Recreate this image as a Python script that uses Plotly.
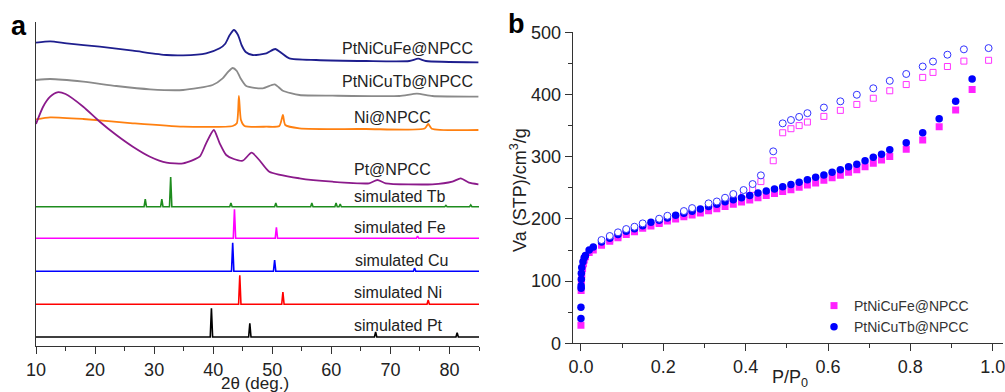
import plotly.graph_objects as go

# ---------------- Panel a : XRD (2theta, stacked intensity in a.u.) ----------------
fe_exp_x = [10.0, 12.4, 15.2, 20.8, 26.4, 32.1, 34.9, 38.8, 41.1, 42.0, 42.8, 43.5, 44.2, 44.8, 45.5, 46.7, 49.0, 50.5, 51.5, 52.9, 57.4, 65.9, 73.2, 74.7, 76.0, 84.9]
fe_exp_y = [303.3, 304.7, 302.7, 299.3, 295.3, 291, 290.7, 292.7, 297.7, 302, 311, 316, 311, 301, 294, 291, 292.7, 297, 293.3, 287.7, 286, 285, 285, 287.3, 285, 283.7]

tb_exp_x = [10.0, 12.4, 18.0, 23.6, 29.3, 34.9, 39.9, 41.6, 42.5, 43.3, 44.0, 44.6, 45.6, 48.4, 50.4, 51.8, 54.6, 60.2, 71.5, 74.5, 77.1, 84.9]
tb_exp_y = [266, 267, 264.3, 260, 256.7, 256, 261, 267.7, 274, 278, 275, 268, 260, 257.7, 261.7, 255.3, 251, 250.3, 250, 252.3, 250, 249.3]

ni_exp_x = [10.0, 12.4, 18.0, 26.4, 34.9, 43.3, 44.0, 44.35, 44.7, 45.3, 49.0, 51.2, 51.8, 52.2, 54.6, 65.9, 75.8, 76.4, 77.0, 84.9]
ni_exp_y = [226.7, 228.7, 227, 222.7, 219.3, 220, 222.7, 250, 226, 220, 219.3, 220, 231, 221, 217.7, 217, 217.5, 222, 217.3, 216]

pt_exp_x = [10.0, 11.2, 12.4, 13.6, 15.0, 18.0, 20.8, 23.6, 26.4, 29.3, 32.1, 34.9, 37.7, 38.8, 40.1, 41.1, 42.2, 43.5, 45.0, 46.5, 47.8, 49.5, 54.6, 60.2, 66.4, 67.8, 69.2, 77.1, 80.5, 81.9, 83.3, 84.9]
pt_exp_y = [222, 239.3, 249.3, 253.7, 252, 239.3, 224.3, 211, 199.3, 189.3, 183.3, 182.7, 189.3, 202.7, 216, 202.7, 191, 187, 185.3, 193.3, 186, 174.3, 167.7, 164.3, 162.7, 166, 162.7, 161.7, 164.3, 167.7, 163.3, 161.7]

# simulated reference patterns: baseline offset, peak positions, peak heights
sim_tb_base = 139.3
sim_tb_pos = [28.5, 31.3, 32.8, 43.0, 50.6, 56.7, 60.8, 61.5, 79.4, 83.6]
sim_tb_h = [7.7, 7.7, 29.7, 3.7, 3.7, 3.7, 3.7, 2.7, 1.2, 1.7]
sim_fe_base = 107.7
sim_fe_pos = [43.6, 50.7, 74.6]
sim_fe_h = [29, 11, 2.3]
sim_cu_base = 74.7
sim_cu_pos = [43.3, 50.4, 74.1]
sim_cu_h = [28.6, 11.3, 3.3]
sim_ni_base = 41.7
sim_ni_pos = [44.5, 51.8, 76.4]
sim_ni_h = [29, 12.3, 4.3]
sim_pt_base = 9.0
sim_pt_pos = [39.7, 46.2, 67.5, 81.3]
sim_pt_h = [28.7, 13.7, 5, 4.3]

labels_a = ["PtNiCuFe@NPCC", "PtNiCuTb@NPCC", "Ni@NPCC", "Pt@NPCC", "simulated Tb",
            "simulated Fe", "simulated Cu", "simulated Ni", "simulated Pt"]
label_x = [61.4, 61.4, 63.5, 63.5, 63.5, 63.5, 63.6, 63.5, 63.5]
label_y = [298, 265, 229, 177, 150, 118.3, 85.3, 53.3, 21]

# ---------------- Panel b : N2 isotherms ----------------
fe_ads_p = [0.0, 0.0005, 0.001, 0.002, 0.004, 0.006, 0.008, 0.011, 0.02, 0.03,
            0.05, 0.07, 0.09, 0.11, 0.13, 0.15, 0.17, 0.19, 0.21, 0.23, 0.25, 0.27, 0.29, 0.31, 0.33, 0.35,
            0.37, 0.39, 0.41, 0.43, 0.45, 0.47, 0.49, 0.51, 0.53, 0.55, 0.57, 0.59, 0.61, 0.63, 0.65,
            0.67, 0.69, 0.71, 0.73, 0.75, 0.79, 0.83, 0.87, 0.91, 0.95]
fe_ads_v = [29, 85, 100, 110, 120, 128, 134, 139, 146, 150,
            157.5, 164, 169.7, 175, 179.4, 184.8, 188.5, 192.8, 196.6, 199.8, 203.5, 206.2, 209.5, 213, 216.5, 220,
            223.6, 227.3, 230.3, 234, 237.5, 241, 244, 247, 250.7, 254.4, 257.6, 262, 266, 270, 274.8,
            279, 283.8, 289.3, 294.6, 300.5, 311.8, 326.7, 348, 375, 408]
fe_des_p = [0.05, 0.07, 0.09, 0.11, 0.13, 0.15, 0.19, 0.21, 0.25, 0.27, 0.31, 0.33, 0.35, 0.37, 0.395,
            0.417, 0.437, 0.467, 0.49, 0.51, 0.53, 0.55, 0.59, 0.63, 0.67, 0.71, 0.75, 0.79, 0.83, 0.855,
            0.89, 0.93, 0.99]
fe_des_v = [160, 166.5, 172, 177.5, 181.5, 187, 194, 199, 206, 211, 218, 222, 228, 234, 240,
            247.5, 260, 293.5, 338.5, 345, 350, 355.7, 364.8, 374.5, 384, 394, 406, 416, 427.5, 435.5,
            445, 453.7, 455]
tb_ads_p = [0.0, 0.0, 0.0005, 0.0005, 0.001, 0.001, 0.002, 0.005, 0.008, 0.011, 0.02, 0.03,
            0.05, 0.07, 0.09, 0.11, 0.13, 0.15, 0.17, 0.19, 0.21, 0.23, 0.25, 0.27, 0.29, 0.31, 0.33, 0.35,
            0.37, 0.39, 0.41, 0.43, 0.45, 0.47, 0.49, 0.51, 0.53, 0.55, 0.57, 0.59, 0.61, 0.63, 0.65,
            0.67, 0.69, 0.71, 0.73, 0.75, 0.79, 0.83, 0.87, 0.91, 0.95]
tb_ads_v = [40, 58, 88.4, 92.6, 103, 112.5, 122, 131, 137.6, 141, 150, 155,
            163, 169, 175, 180, 184, 189, 194.5, 198, 201.5, 205.7, 209, 212.5, 216, 220, 223.4, 227.6,
            230.8, 234, 237.5, 241.5, 244.8, 248, 251.5, 255.5, 259, 263, 266.8, 270.5, 274.8, 279, 283.8,
            288, 293.5, 299, 304, 311, 322.4, 338.5, 361, 389, 425]
tb_des_p = [0.05, 0.07, 0.09, 0.11, 0.13, 0.15, 0.19, 0.21, 0.25, 0.27, 0.31, 0.33, 0.35, 0.37, 0.395,
            0.417, 0.437, 0.467, 0.49, 0.51, 0.53, 0.55, 0.59, 0.63, 0.67, 0.71, 0.75, 0.79, 0.83, 0.855,
            0.89, 0.93, 0.99]
tb_des_v = [166, 172.5, 178.4, 183.7, 187.4, 192.8, 200.3, 205, 212.6, 217.4, 225, 228, 234, 240, 246.4,
            256, 270, 308.6, 353.6, 359, 364, 370, 379, 389, 399.6, 410, 422, 433, 445, 453, 464, 472.6, 474.6]

FONT = "Liberation Sans, Arial, sans-serif"
TXT = "#222222"
W, H = 1005, 392


def sticks(base, pos, h, lo=10.0, hi=85.0, hw=0.2):
    xs, ys = [lo], [base]
    for p, v in zip(pos, h):
        xs += [p - hw, p, p + hw]
        ys += [base, base + v, base]
    xs.append(hi)
    ys.append(base)
    return xs, ys


fig = go.Figure()

exp_series = [
    (fe_exp_x, fe_exp_y, "#1e1e8e"),
    (tb_exp_x, tb_exp_y, "#8a8a8a"),
    (ni_exp_x, ni_exp_y, "#ff8010"),
    (pt_exp_x, pt_exp_y, "#8b1a8b"),
]
for xs, ys, c in exp_series:
    fig.add_trace(go.Scatter(x=xs, y=ys, mode="lines", line=dict(color=c, width=1.8, shape="spline", smoothing=0.6),
                             showlegend=False, xaxis="x", yaxis="y", hoverinfo="skip"))

sim_series = [
    (sim_tb_base, sim_tb_pos, sim_tb_h, "#1e8c1e"),
    (sim_fe_base, sim_fe_pos, sim_fe_h, "#ff00ff"),
    (sim_cu_base, sim_cu_pos, sim_cu_h, "#0000ff"),
    (sim_ni_base, sim_ni_pos, sim_ni_h, "#ff0000"),
    (sim_pt_base, sim_pt_pos, sim_pt_h, "#000000"),
]
for b, p, h, c in sim_series:
    xs, ys = sticks(b, p, h)
    fig.add_trace(go.Scatter(x=xs, y=ys, mode="lines", line=dict(color=c, width=1.6),
                             showlegend=False, xaxis="x", yaxis="y", hoverinfo="skip"))

# panel b traces (order: Fe des, Fe ads, Tb ads, Tb des)
fig.add_trace(go.Scatter(x=fe_des_p, y=fe_des_v, mode="markers", showlegend=False, xaxis="x2", yaxis="y2",
                         marker=dict(symbol="square", size=6, color="white", line=dict(color="#ff33ff", width=1))))
fig.add_trace(go.Scatter(x=fe_ads_p, y=fe_ads_v, mode="markers", name="PtNiCuFe@NPCC", xaxis="x2", yaxis="y2",
                         marker=dict(symbol="square", size=7, color="#ff22ff", line=dict(width=0))))
fig.add_trace(go.Scatter(x=tb_ads_p, y=tb_ads_v, mode="markers", name="PtNiCuTb@NPCC", xaxis="x2", yaxis="y2",
                         marker=dict(symbol="circle", size=7.5, color="#0000ff", line=dict(width=0))))
fig.add_trace(go.Scatter(x=tb_des_p, y=tb_des_v, mode="markers", showlegend=False, xaxis="x2", yaxis="y2",
                         marker=dict(symbol="circle", size=7, color="white", line=dict(color="#3333ff", width=1))))

annotations = []
for t, x, y in zip(labels_a, label_x, label_y):
    annotations.append(dict(text=t, x=x, y=y, xref="x", yref="y", xanchor="left", yanchor="middle",
                            showarrow=False, font=dict(family=FONT, size=16, color=TXT)))
annotations.append(dict(text="<b>a</b>", x=19 / W, y=1 - 26 / H, xref="paper", yref="paper",
                        xanchor="center", yanchor="middle", showarrow=False,
                        font=dict(family=FONT, size=27, color="#000")))
annotations.append(dict(text="<b>b</b>", x=516 / W, y=1 - 24 / H, xref="paper", yref="paper",
                        xanchor="center", yanchor="middle", showarrow=False,
                        font=dict(family=FONT, size=27, color="#000")))
# axis titles placed in paper coordinates
annotations.append(dict(text="2θ (deg.)", x=255 / W, y=1 - 383 / H, xref="paper", yref="paper",
                        xanchor="center", yanchor="middle", showarrow=False,
                        font=dict(family=FONT, size=17, color=TXT)))
annotations.append(dict(text="P/P<sub>0</sub>", x=790 / W, y=1 - 378 / H, xref="paper", yref="paper",
                        xanchor="center", yanchor="middle", showarrow=False,
                        font=dict(family=FONT, size=18, color=TXT)))
annotations.append(dict(text="Va (STP)/cm<sup>3</sup>/g", x=519 / W, y=1 - 190 / H, xref="paper", yref="paper",
                        xanchor="center", yanchor="middle", showarrow=False, textangle=-90,
                        font=dict(family=FONT, size=18, color=TXT)))

axis_common = dict(showgrid=False, zeroline=False, showline=True, linecolor="#333333", linewidth=1.3,
                   ticks="outside", tickcolor="#333333", tickwidth=1.2, ticklen=7, automargin=False,
                   ticklabeloverflow="allow",
                   tickfont=dict(family=FONT, size=18, color=TXT))

fig.update_layout(
    width=W, height=H,
    margin=dict(l=0, r=0, t=0, b=0, autoexpand=False),
    paper_bgcolor="white", plot_bgcolor="white",
    font=dict(family=FONT, color=TXT),
    annotations=annotations,
    xaxis=dict(axis_common, domain=[36 / W, 479 / W], range=[10, 85], tick0=10, dtick=10,
               minor=dict(ticks="outside", dtick=5, ticklen=4, tickcolor="#333333"),
               anchor="y"),
    yaxis=dict(showgrid=False, zeroline=False, showline=True, linecolor="#333333", linewidth=1.3,
               showticklabels=False, ticks="", domain=[1 - 346 / H, 1 - 22 / H], range=[0, 324],
               automargin=False, anchor="x"),
    xaxis2=dict(axis_common, domain=[572.7 / W, 1003 / W], range=[-0.02, 1.025], tick0=0, dtick=0.2,
                tickformat=".1f",
                minor=dict(ticks="outside", dtick=0.1, ticklen=4, tickcolor="#333333"),
                anchor="y2"),
    yaxis2=dict(axis_common, domain=[1 - 343.3 / H, 1 - 32.3 / H], range=[0, 500], dtick=100,
                minor=dict(ticks="outside", dtick=50, ticklen=4, tickcolor="#333333"),
                anchor="x2"),
    legend=dict(x=814 / W, y=1 - 290 / H, xanchor="left", yanchor="top", bgcolor="rgba(0,0,0,0)",
                font=dict(family=FONT, size=14, color="#333333"), tracegroupgap=0, itemsizing="trace"),
)

fig.write_html("out.html", config={"displayModeBar": False},
               post_script="document.body.style.margin='0';document.body.style.overflow='hidden';")
